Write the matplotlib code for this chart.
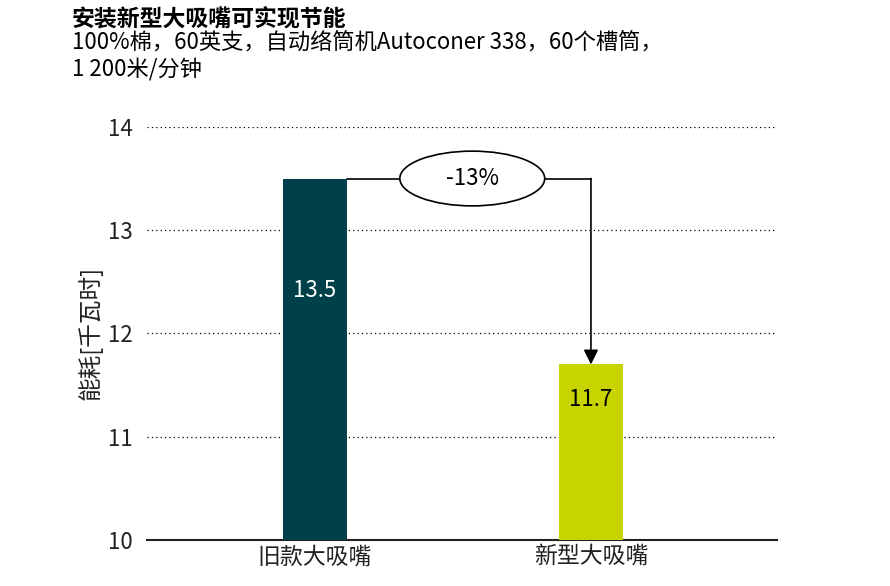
import matplotlib.pyplot as plt
from matplotlib.patches import Ellipse

plt.rcParams['font.family'] = ['Noto Sans CJK SC', 'DejaVu Sans']

# data
categories = ['旧款大吸嘴', '新型大吸嘴']
values = [13.5, 11.7]
bar_colors = ['#00404B', '#C8D400']
label_colors = ['white', 'black']
label_y = [12.42, 11.36]
change_text = '-13%'

title = '安装新型大吸嘴可实现节能'
subtitle = '100%棉，60英支，自动络筒机Autoconer 338，60个槽筒，\n1 200米/分钟'
ylabel = '能耗[千瓦时]'
yticks = [10, 11, 12, 13, 14]

fig = plt.figure(figsize=(8.9, 5.86), dpi=100)
ax = fig.add_axes([0.165, 0.0785, 0.708, 0.705])

x = list(range(len(categories)))
ax.bar(x, [v - 10 for v in values], bottom=10, width=0.232, color=bar_colors, zorder=3)
for i, v in enumerate(values):
    ax.text(x[i], label_y[i], str(v), ha='center', va='center', fontsize=16,
            color=label_colors[i], zorder=4)

ax.set_xlim(-0.609, 1.674)
ax.set_ylim(10, 14)
ax.set_yticks(yticks)
ax.set_yticklabels([str(t) for t in yticks], fontsize=16, color='#222222')
ax.set_xticks(x)
ax.set_xticklabels(categories, fontsize=16.5, color='#222222')
ax.tick_params(length=0, pad=10)
ax.tick_params(axis='x', pad=4)
for s in ['top', 'right', 'left']:
    ax.spines[s].set_visible(False)
ax.spines['bottom'].set_linewidth(1.5)
ax.spines['bottom'].set_color('#222222')
for t in yticks[1:]:
    ax.axhline(t, color='black', linestyle=(0, (1, 2.5)), linewidth=0.9, zorder=1)
ax.set_ylabel(ylabel, fontsize=17, color='#222222', labelpad=4)

# change annotation
ax.plot([x[0] + 0.116, x[1]], [values[0], values[0]], color='black', lw=1.2, zorder=2)
ax.annotate('', xy=(x[1], values[1]), xytext=(x[1], values[0]),
            arrowprops=dict(arrowstyle='-|>', color='black', lw=1.2,
                            mutation_scale=22, shrinkA=0, shrinkB=0), zorder=2)
ell = Ellipse((0.57, values[0]), 0.525, 0.53, facecolor='white', edgecolor='black',
              lw=1.2, zorder=5)
ax.add_patch(ell)
ax.text(0.57, values[0], change_text, ha='center', va='center', fontsize=16, zorder=6)

fig.text(0.081, 0.968, title, fontsize=16.5, fontweight='bold', va='center')
fig.text(0.081, 0.947, subtitle, fontsize=16, va='top', linespacing=1.18)

fig.savefig('out.png', dpi=100)
